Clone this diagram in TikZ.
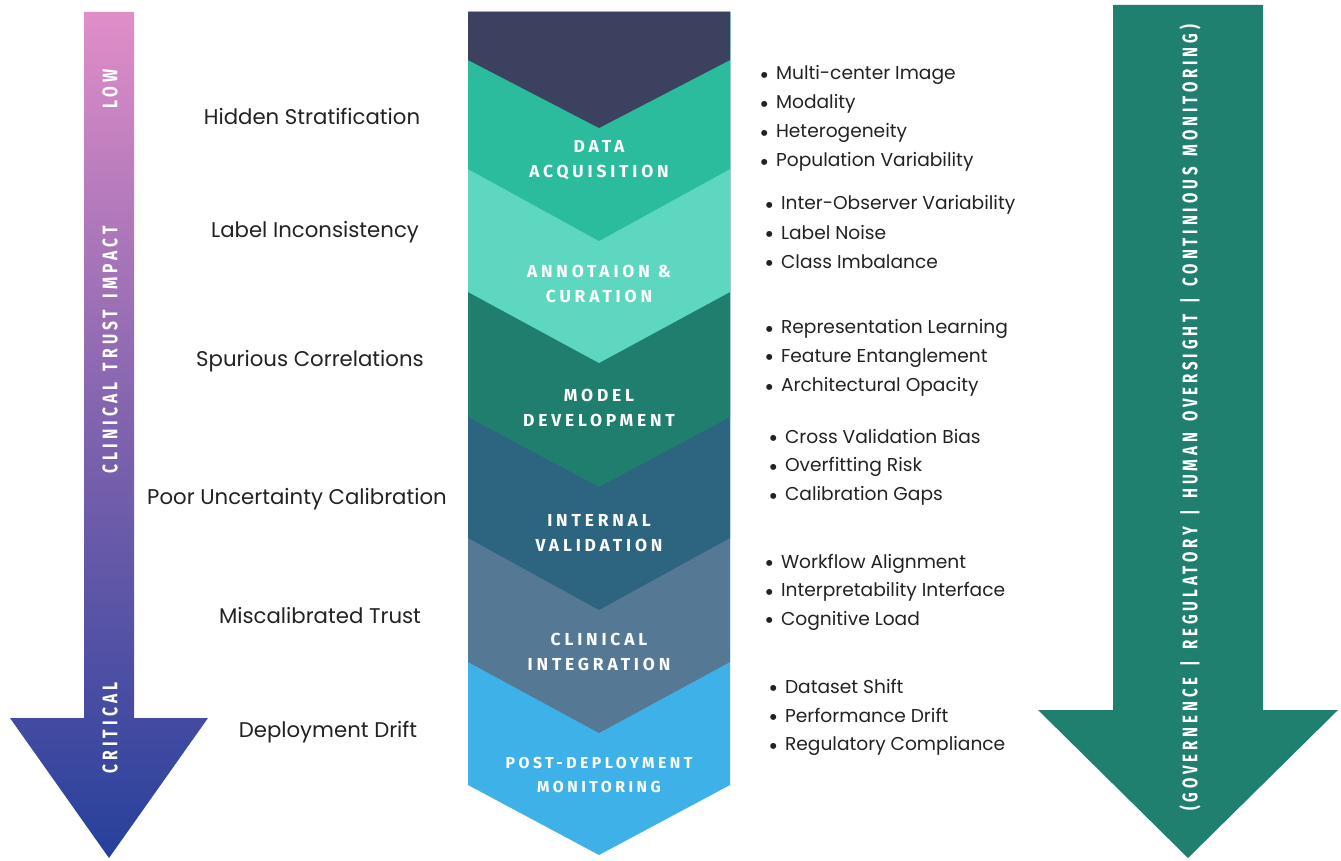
\documentclass[tikz,border=0pt]{standalone}
\usepackage{fontspec}
\setmainfont{Poppins}
\newfontfamily\stagefont[LetterSpace=22]{Fira Sans}
\newfontfamily\barfont[LetterSpace=26,WordSpace=1.5]{Fira Sans}

\definecolor{impacttop}{HTML}{E08EC8}
\definecolor{impactmid}{HTML}{7E62AE}
\definecolor{impactbot}{HTML}{27409B}
\definecolor{govgreen}{HTML}{1F806F}
\definecolor{stnavy}{HTML}{3C4160}
\definecolor{stacq}{HTML}{2BBB9D}
\definecolor{stann}{HTML}{5ED7C1}
\definecolor{stmodel}{HTML}{1F7E6D}
\definecolor{stval}{HTML}{2D6480}
\definecolor{stclin}{HTML}{557895}
\definecolor{stpost}{HTML}{3EB2E8}
\definecolor{ink}{HTML}{222222}

\newcommand{\bul}{\makebox[9.5pt][l]{\raisebox{-0.35ex}{\scalebox{1.3}{\textbullet}}}}

\tikzset{
  cause/.style={font=\fontsize{12.1}{14}\selectfont, text=ink, inner sep=0pt},
  stage/.style={font=\stagefont\bfseries\fontsize{9.9}{14.5}\selectfont, text=white, align=center, inner sep=0pt},
  item/.style={font=\fontsize{10.6}{12}\selectfont, text=ink, anchor=west, inner sep=0pt},
  bartext/.style={font=\barfont\bfseries\fontsize{12}{14}\selectfont, text=white, rotate=90, inner sep=0pt},
}

\begin{document}
\begin{tikzpicture}[x=0.02cm,y=-0.02cm]
	\useasboundingbox (0,0) rectangle (1341,861);
	%impact arrow
	\shade[top color=impacttop, bottom color=impactbot, middle color=impactmid]
		(84,12) -- (134,12) -- (134,718) -- (208,718) -- (109,858) -- (10,718) -- (84,718) -- cycle;
	\node[bartext] (low) at (110,89) {\scalebox{0.74}[1]{LOW}};
	\node[bartext] (impact) at (110,350) {\scalebox{0.74}[1]{CLINICAL TRUST IMPACT}};
	\node[bartext] (critical) at (110,728) {\scalebox{0.74}[1]{CRITICAL}};
	%governance arrow
	\fill[govgreen] (1113,5) -- (1263,5) -- (1263,710) -- (1338,710) -- (1188,858) -- (1038,710) -- (1113,710) -- cycle;
	\node[bartext] (gov) at (1190,418) {\scalebox{0.71}[1]{(GOVERNENCE | REGULATORY | HUMAN OVERSIGHT | CONTINIOUS MONITORING)}};
	%stages, lowest chevron first
	\foreach \s/\t/\c in {785/855/stpost, 662/733/stclin, 538/610/stval, 417/487/stmodel, 292/363/stann, 169/241/stacq, 60/128/stnavy}
		\fill[\c] (468,12) -- (730,12) -- (730,\s) -- (599,\t) -- (468,\s) -- cycle;
	\node[stage] (acq) at (599,160) {DATA\\ACQUISITION};
	\node[stage] (ann) at (599,284) {ANNOTAION \&\\CURATION};
	\node[stage] (model) at (599,408) {MODEL\\DEVELOPMENT};
	\node[stage] (val) at (599,533) {INTERNAL\\VALIDATION};
	\node[stage] (clin) at (599,652) {CLINICAL\\INTEGRATION};
	\node[stage, font=\stagefont\bfseries\fontsize{9}{13.5}\selectfont] (post) at (599,775) {POST-DEPLOYMENT\\MONITORING};
	%risks
	\node[cause] (hidden) at (312,116) {Hidden Stratification};
	\node[cause] (label) at (315,232) {Label Inconsistency};
	\node[cause] (spur) at (310,361) {Spurious Correlations};
	\node[cause] (poor) at (297,499) {Poor Uncertainty Calibration};
	\node[cause] (trust) at (320,616) {Miscalibrated Trust};
	\node[cause] (drift) at (328,732) {Deployment Drift};
	%factors
	\foreach \t [count=\i] in {Multi-center Image, Modality, Heterogeneity, Population Variability}
		\node[item] (acq\i) at (759,46+29*\i) {\bul\t};
	\foreach \t [count=\i] in {Inter-Observer Variability, Label Noise, Class Imbalance}
		\node[item] (ann\i) at (764,176+29*\i) {\bul\t};
	\foreach \t [count=\i] in {Representation Learning, Feature Entanglement, Architectural Opacity}
		\node[item] (model\i) at (764,300+29*\i) {\bul\t};
	\foreach \t [count=\i] in {Cross Validation Bias, Overfitting Risk, Calibration Gaps}
		\node[item] (val\i) at (768,409+29*\i) {\bul\t};
	\foreach \t [count=\i] in {Workflow Alignment, Interpretability Interface, Cognitive Load}
		\node[item] (clin\i) at (764,535+28.5*\i) {\bul\t};
	\foreach \t [count=\i] in {Dataset Shift, Performance Drift, Regulatory Compliance}
		\node[item] (post\i) at (768,659+29*\i) {\bul\t};
\end{tikzpicture}
\end{document}
